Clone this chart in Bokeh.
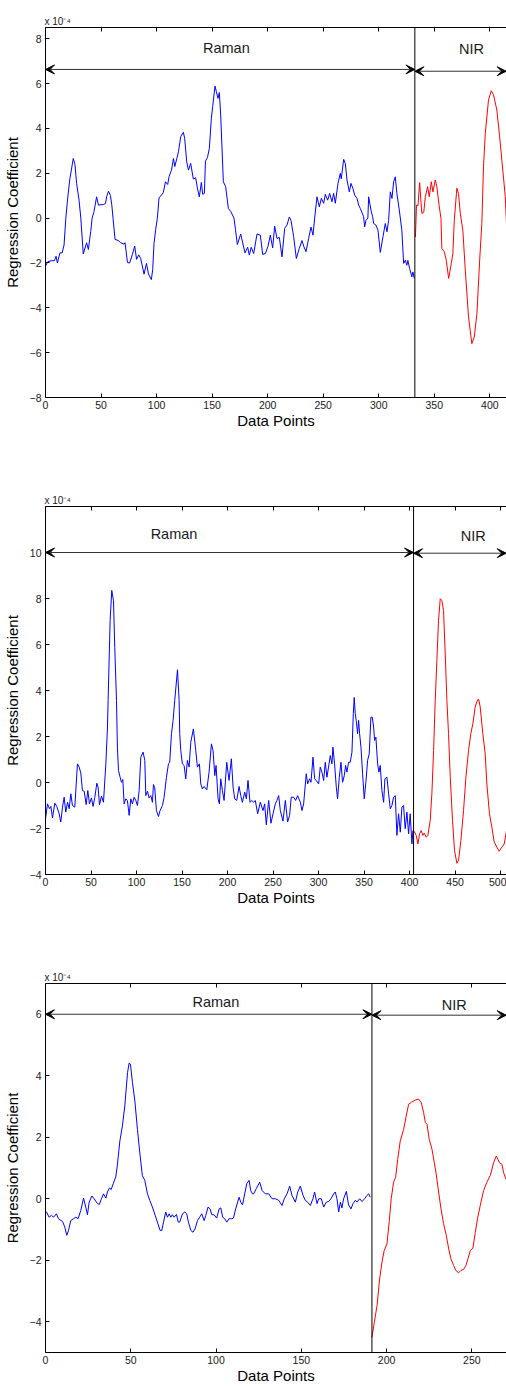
from bokeh.plotting import figure
from bokeh.models import LinearAxis, Range1d, FixedTicker, Span, Arrow, VeeHead, Label
from bokeh.layouts import column
from bokeh.embed import file_html
from bokeh.resources import INLINE

FONT = "Liberation Sans"

# ---------------- Panel 1 data (units of 1e-4) ----------------
raman1_x = [0, 2, 5, 8, 9.5, 10.7, 13, 15, 16.7, 18.3, 20, 22, 25, 26.5, 28, 30.2, 31.8, 34, 37, 38.6,
            40.7, 42, 43.7, 46, 47.7, 50, 52, 54, 55, 56.7, 58.5, 59.7, 60.8, 62.6, 65.6, 67.7, 70.7, 71.6,
            73.8, 75.8, 78.2, 80.3, 82, 83.9, 85.7, 88.7, 90.9, 92.7, 95.3, 96.5, 97.7, 99.2, 100.7, 102.2,
            106, 108, 110, 111.2, 113.4, 115.2, 116.4, 118.2, 119.7, 121.7, 124.1, 125.3, 127.1, 128.7,
            130.7, 133.1, 135.2, 136.7, 138.5, 140.3, 141.5, 143, 144, 145.8, 147.5, 149.3, 150.5, 152.6,
            153.8, 155.3, 156.5, 157.7, 160.1, 162.2, 164.6, 166.7, 169.7, 171, 172.7, 175.7, 179.6, 182,
            183.5, 185.2, 187.4, 190.4, 193.4, 195.5, 198, 200.3, 202.4, 204.5, 206.3, 208.4, 210.5, 212.9,
            215.3, 217.4, 219.5, 221, 223.4, 225.8, 228.5, 230.9, 232.4, 234.5, 236.9, 239, 240.8, 242.3,
            244.4, 246.5, 248.3, 250.4, 251.9, 254, 255.8, 257.9, 259.4, 260.9, 263.3, 265.4, 266.2, 266.9,
            268.4, 269.9, 271.4, 273.5, 275, 276.7, 278.3, 280.4, 281.9, 283.4, 286.4, 287.3, 288.5, 290.2,
            290.9, 293, 294.5, 295.4, 297.4, 299.3, 301.4, 303.8, 305.9, 307.4, 308.9, 310.4, 311.9, 313.4,
            314.9, 316.3, 318.5, 320.8, 322.4, 323.9, 325.3, 326.2, 327.8, 329.8, 330.7, 332]
raman1_y = [-2.14, -1.95, -1.9, -1.9, -1.7, -2.0, -1.55, -1.55, -1.2, 0, 0.9, 1.77, 2.66, 2.4, 1.55, 0.8, 0, -1.6, -1.1, -1.4,
            -0.6, 0, 0.3, 0.95, 0.58, 0.6, 0.6, 0.65, 0.95, 1.2, 1.0, 0.58, 0, -0.95, -1.0, -1.1, -1.16, -1.1,
            -1.98, -2.0, -1.62, -1.25, -1.84, -1.64, -1.8, -2.5, -2.02, -2.5, -2.74, -2.3, -1.13, -0.5, 0, 0.9,
            1.13, 1.62, 1.5, 1.84, 2.14, 2.66, 2.3, 2.65, 2.96, 3.63, 3.83, 3.55, 2.51, 2.14,
            2.44, 1.74, 1.8, 1.35, 0.95, 1.59, 1.06, 1.1, 2.54, 2.7, 3.11, 4.45, 4.97, 5.89,
            5.64, 5.34, 5.6, 4.6, 1.62, 1.4, 0.43, 0.3, 0, -0.5, -1.18, -0.71, -1.55, -1.3,
            -1.65, -1.3, -1.58, -0.71, -0.76, -1.62, -1.58, -1.25, -0.76, -1.33, -0.36, -0.91, -0.86, -1.73,
            -0.46, -0.31, 0.05, -0.1, -0.83, -1.8, -1.35, -1.0, -1.25, -1.5, -0.9, -0.4, -0.76, 0,
            0.95, 0.5, 0.88, 0.66, 1.06, 0.8, 1.1, 0.73, 1.1, 0.66, 1.55, 2.0, 1.75, 2.0,
            2.62, 2.44, 1.7, 1.17, 1.55, 1.33, 1.03, 0.88, 0.58, 0.43, 0.06, -0.39, -0.1, 0,
            0.95, 0.36, 0.06, -0.24, -0.31, -0.54, -1.53, -0.83, -0.24, -0.61, -0.1, 1.17, 0.88, 1.62,
            1.84, 1.1, 0.36, -0.54, -2.02, -1.88, -2.1, -1.88, -2.25, -2.62, -2.4, -2.69]
nir1_x = [333, 334, 335.3, 336.8, 338.8, 340.5, 341.9, 344, 345.5, 347.3, 348.8, 350.9, 352.3, 354.5, 356,
          356.8, 359, 360.8, 362.9, 365.3, 366.7, 368, 370.3, 371.8, 373.4, 375.7, 377.9, 380.8, 383.8,
          386, 388.4, 390.7, 392.8, 394.3, 395.9, 398.8, 401.3, 403.3, 406.3, 408.7, 410.8, 413.9, 415.5]
nir1_y = [-0.85, 0.58, 0.55, 1.58, 0.21, 0.25, 0.95, 1.4, 0.95, 1.62, 1.17, 1.7, 1.4, 0.5, 0,
          -1.35, -1.5, -1.88, -2.69, -2.02, -1.58, -0.1, 1.33, 1.1, 0.21, -0.54, -2.32, -4.4, -5.6,
          -5.3, -4.25, -2.0, -0.24, 2.29, 3.78, 5.27, 5.68, 5.5, 4.82, 3.7, 2.59, 0.95, -0.8]

# ---------------- Panel 2 data ----------------
raman2_x = [0, 2.2, 4.4, 5.9, 7.7, 10.2, 12.4, 15, 16.8, 18.7, 20.5, 22.3, 24.2, 26, 27.8, 29.6, 32.2, 35.1, 37, 38.8,
            40.6, 42.5, 44.7, 46.5, 48.3, 50.5, 52.3, 54.2, 56.4, 57.8, 59.3, 61.5, 63.7, 66.3, 68.1, 68.8, 71, 72.8,
            74.7, 76.1, 78, 79, 80.2, 82, 83.5, 84.9, 86.4, 88.2, 90, 91.9, 93.7, 95.5, 97.4, 99.2, 101, 102.9,
            104.7, 107.2, 109.1, 110.2, 112, 113.8, 115.7, 117.5, 118.6, 120, 121.9, 124.1, 125.9, 128.5, 130.3,
            132.9, 135.1, 136.5, 138.4, 140.2, 142, 145, 146.8, 147.5, 148.6, 150.4, 152.3, 154.1, 155.9, 157.8,
            159.6, 162.5, 165.1, 166.9, 169.1, 170.6, 172.4, 174.2, 177.2, 179.7, 182.3, 184.1, 186, 187.4, 189.6,
            191.1, 192.5, 194.4, 196.2, 199.1, 201.7, 204.2, 206.1, 207.9, 210.1, 212.7, 214.5, 216.3, 218.9,
            220.7, 222.5, 224.7, 226.6, 228.7, 230.5, 233.1, 236, 239, 240.8, 242.6, 245.2, 247.7, 250, 252.5,
            254.3, 256.2, 258, 260.9, 263.5, 266, 268.2, 270, 272.6, 274.8, 277, 280, 281.8, 283.6, 286.5, 288,
            290.2, 291.7, 293.9, 295.7, 297.5, 300.1, 301.9, 303.7, 305.6, 307.4, 309.2, 311, 312.9, 314.7, 315.8,
            317.6, 319.5, 320.9, 322.8, 324.6, 326.4, 328.3, 329.7, 331.2, 333, 334.8, 336.7, 338.2, 339.2, 340.3,
            341.4, 342.9, 344, 345.1, 346.6, 348.4, 350.2, 352, 353.9, 355.7, 357.5, 359, 360.5, 361.6, 363,
            364.9, 366.3, 367.8, 369.6, 371.5, 372.9, 375.1, 377, 378.8, 380.6, 382.4, 384.3, 386.1, 387.9,
            389.8, 391.6, 393.4, 395.2, 397.1, 398.9, 400.7, 402.6, 403.7]
raman2_y = [-1.58, -0.93, -1.14, -1.04, -1.54, -0.9, -1.04, -1.36, -1.72, -1.07, -0.64, -1.29, -0.86, -1.14, -0.49, -1.0, -1.07, 0.81, 0.67, 0.41,
            -0.35, -0.38, -0.96, -0.35, -0.93, -0.67, -1.04, -0.64, -0.03, -0.2, -0.97, -0.59, -0.86, 0.81, 2.41, 3.57, 7.04, 8.35,
            7.9, 5.88, 3.57, 1.54, 0.52, 0.23, 0.01, 0.13, -0.93, -0.71, -0.78, -1.43, -0.71, -0.93, -0.64, -0.78, -1.0, -0.35,
            1.1, 1.32, 0.96, -0.57, -0.38, -0.67, -0.57, -0.86, -0.09, -0.23, -1.22, -1.48, -1.22, -1.0, -0.64,
            0.23, 0.81, 0.88, 2.12, 2.7, 3.57, 4.9, 3.57, 2.12, 1.39, 0.81, 0.74, 0.16, 0.96, 0.67,
            1.75, 2.33, 1.39, 0.67, 0.81, -0.06, -0.28, -0.17, -0.32, 0.45, 1.68, 1.39, 0.3, 0.74, -0.71,
            -0.93, 0.16, -0.35, -0.78, 0.88, 0.09, 1.03, -0.2, -0.71, -0.78, -0.17, -0.57, -0.86, -0.42,
            -0.71, 0.09, -0.86, -0.78, -0.86, -0.78, -1.36, -0.86, -1.22, -0.93, -1.84, -0.78, -1.77, -1.36, -0.93,
            -0.78, -0.57, -1.22, -1.68, -0.78, -1.72, -1.43, -0.64, -0.64, -0.78, -0.57, -0.86, -1.22, -0.93, 0.38, -0.06,
            0.16, 0.01, 1.1, 0.16, 0.09, -0.06, 0.67, 0.45, 0.09, 0.88, 0.23, 0.67, 1.17, 0.81, 1.54,
            0.81, -0.2, -0.71, 0.23, 0.88, 0.01, 0.3, 0.74, 0.45, 0.88, 0.88, 1.32, 3.0, 3.7, 3.0,
            2.7, 2.12, 2.7, 2.12, 1.54, 0.38, -0.71, 0.01, 0.96, 1.25, 2.84, 2.84, 2.41, 1.83, 1.97,
            0.81, 0.45, 0.74, -0.35, -0.86, 0.16, 0.23, -0.49, -1.14, -1.0, -0.64, -0.57, -2.3, -1.36,
            -2.16, -1.07, -1.0, -2.01, -1.29, -2.23, -1.36, -2.67, -2.09]
nir2_x = [404.5, 407.3, 409.2, 411, 412.8, 414.6, 416.1, 418.3, 420.1, 422.7, 424.5, 426.4, 428.2, 430, 431.8,
          433.7, 435.5, 437.3, 439.2, 441, 442.8, 444.7, 447.2, 449.4, 452, 453.8, 456.4, 459.3, 461.9, 464.8,
          467.3, 469.5, 472.1, 474.7, 476, 477.6, 480.5, 483.1, 484.9, 487.8, 490.4, 493, 495.9, 498.5, 501.4,
          504, 506.5, 508]
nir2_y = [-2.09, -2.3, -2.67, -2.23, -2.09, -2.3, -2.2, -2.38, -2.3, -1.65, -0.49, 1.39, 3.57, 5.3, 7.04,
          7.99, 7.91, 7.48, 5.59, 3.57, 2.12, 0.23, -1.65, -2.96, -3.51, -3.39, -2.52, -1.22, 0.23, 1.39,
          2.12, 2.55, 3.28, 3.6, 3.61, 3.28, 2.12, 1.25, -0.06, -1.36, -1.94, -2.59, -2.81, -2.99, -2.81,
          -2.67, -2.09, -1.9]

# ---------------- Panel 3 data ----------------
raman3_x = [0, 0.6, 2.1, 3.5, 4.7, 6.4, 7.6, 10, 11.3, 12.5, 13.5, 14.8, 16.4, 17.8, 19.1, 20.7, 22.3, 23.6, 24.6,
            25.6, 27.2, 28.5, 30.5, 31.6, 32.8, 34, 35.4, 36.3, 37.5, 38.5, 39.7, 41.2, 42.2, 43.6, 45.1, 46.5,
            48.1, 49, 49.8, 51, 52.4, 53.9, 55.5, 56.8, 58.2, 59.8, 61.1, 62.7, 64.3, 65.6, 67.2, 68.2, 69.2,
            70.5, 71.5, 72.5, 73.5, 74.4, 75.4, 76.8, 77.8, 78.7, 80.3, 81.7, 82.8, 83.8, 85.2, 86.5, 87.7,
            89.1, 90.4, 91.6, 93, 94, 95.3, 96.5, 97.5, 98.8, 100.4, 101.8, 102.8, 103.9, 105.1, 106.3, 107.6,
            109, 110.2, 111.5, 113.5, 114.5, 115.5, 116.8, 118, 119.4, 120.3, 121.3, 122.1, 123.6, 125.6, 127,
            128.9, 130.9, 132.8, 134.8, 136.7, 138.7, 140, 141.6, 143.2, 144.5, 146.5, 147.9, 149.4, 151, 152.3,
            153.7, 155.3, 156.8, 157.8, 159.2, 160.2, 161.7, 163.1, 164.7, 166, 167.4, 169, 169.9, 170.9, 171.9,
            172.9, 173.8, 174.8, 176.4, 177.7, 179.1, 180.3, 181.7, 182.6, 184.2, 185.6, 187.1, 188.5, 189.5, 190.4]
raman3_y = [-0.4, -0.43, -0.6, -0.54, -0.6, -0.49, -0.65, -0.74, -0.92, -1.19, -1.03, -0.71, -0.65, -0.6, -0.65, -0.38, 0.02, -0.27, -0.52,
            -0.11, 0.09, 0, -0.16, -0.18, 0, 0.16, 0.02, 0.22, 0.35, 0.3, 0.49, 0.71, 1.13, 1.88, 2.37, 3.02,
            4.1, 4.41, 4.38, 3.78, 3.18, 2.26, 1.39, 0.75, 0.6, 0.16, -0.05, -0.27, -0.54, -0.76, -1.03, -1.03, -0.76,
            -0.43, -0.6, -0.49, -0.6, -0.52, -0.6, -0.51, -0.76, -0.76, -0.49, -0.43, -0.49, -0.76, -1.03, -1.09, -0.98,
            -0.71, -0.6, -0.49, -0.71, -0.54, -0.27, -0.33, -0.52, -0.52, -0.63, -0.33, -0.3, -0.6, -0.65, -0.76, -0.65,
            -0.65, -0.63, -0.33, 0.05, -0.11, -0.2, 0.16, 0.49, 0.6, 0.27, 0.16, 0.16, 0.33, 0.54, 0.27,
            0.16, 0.16, 0, 0, -0.05, -0.22, 0, 0.16, 0.41, 0.11, -0.11, 0.22, 0.41, 0.11, -0.05,
            -0.11, -0.22, 0, 0.22, -0.16, 0, 0, -0.27, -0.11, -0.09, 0, 0.16, 0.22, 0, -0.43,
            -0.11, -0.3, 0, 0.24, -0.2, -0.33, -0.16, -0.05, -0.11, 0, -0.09, 0, 0.11, 0.16, 0.05]
nir3_x = [191.4, 192.8, 194.4, 195.9, 197.3, 198.6, 200.2, 201.6, 202.7, 204.1, 205.3, 206.5, 208, 210, 211.5,
          212.9, 214.9, 216.8, 218.8, 220.3, 221.7, 222.7, 223.7, 225, 226.6, 228, 229.1, 230.5, 231.9, 233.4,
          235, 236.4, 237.7, 239.3, 240.6, 242.2, 243.6, 245.1, 246.5, 247.7, 249.1, 250.6, 252, 253.3, 254.9,
          256.9, 258.8, 260.8, 261.5, 262.7, 264.3, 265.3, 266.2, 267.6, 268.6, 270, 271]
nir3_y = [-4.51, -4.02, -3.47, -2.61, -2.06, -1.68, -1.47, -0.71, 0, 0.54, 0.7, 1.28, 1.88, 2.26, 2.69,
          3.07, 3.15, 3.21, 3.24, 3.13, 2.8, 2.48, 2.42, 1.93, 1.61, 1.17, 0.8, 0.22, -0.33, -0.81,
          -1.19, -1.63, -1.95, -2.17, -2.33, -2.41, -2.33, -2.3, -2.17, -1.95, -1.68, -1.61, -1.09, -0.65, -0.22,
          0.27, 0.54, 0.76, 0.9, 1.17, 1.39, 1.28, 1.17, 1.12, 0.85, 0.63, 0.6]

# ---------------- axis settings ----------------
xticks1 = [0, 50, 100, 150, 200, 250, 300, 350, 400]
yticks1 = [-8, -6, -4, -2, 0, 2, 4, 6, 8]
xticks2 = [0, 50, 100, 150, 200, 250, 300, 350, 400, 450, 500]
yticks2 = [-4, -2, 0, 2, 4, 6, 8, 10]
xticks3 = [0, 50, 100, 150, 200, 250]
yticks3 = [-4, -2, 0, 2, 4, 6]
scale_text = "x 10\u207b\u2074"


def make_panel(height, top, bottom, xr, yr, xticks, yticks, sep,
               rx, ry, nx, ny, ay_r, ay_n, raman_pos, nir_pos):
    p = figure(width=506, height=height, output_backend="svg", toolbar_location=None,
               x_range=Range1d(*xr), y_range=Range1d(*yr),
               x_axis_location=None, y_axis_location=None,
               min_border_left=45, min_border_right=0,
               min_border_top=top, min_border_bottom=bottom)
    p.outline_line_color = None
    p.background_fill_color = "white"
    p.border_fill_color = "white"
    p.grid.visible = False

    p.title.text = scale_text
    p.title.align = "left"
    p.title.text_font = FONT
    p.title.text_font_size = "10px"
    p.title.text_font_style = "normal"
    p.title.text_color = "#1a1a1a"
    p.title.standoff = 2
    p.title.offset = -1

    common = dict(major_tick_in=4, major_tick_out=0, minor_tick_line_color=None,
                  axis_line_color="black", major_tick_line_color="black",
                  major_label_text_font=FONT, major_label_text_font_size="10.5px",
                  major_label_text_color="#1a1a1a",
                  axis_label_text_font=FONT, axis_label_text_font_size="15px",
                  axis_label_text_font_style="normal", axis_label_text_color="black")

    xa = LinearAxis(ticker=FixedTicker(ticks=xticks), axis_label="Data Points",
                    major_label_standoff=3, axis_label_standoff=0, **common)
    p.add_layout(xa, "below")
    ya = LinearAxis(ticker=FixedTicker(ticks=yticks), axis_label="Regression Coefficient",
                    major_label_standoff=4, axis_label_standoff=6, **common)
    p.add_layout(ya, "left")
    ta = LinearAxis(ticker=FixedTicker(ticks=xticks), major_tick_in=4, major_tick_out=0,
                    minor_tick_line_color=None, axis_line_color="black",
                    major_label_text_color=None, major_label_text_alpha=0,
                    major_label_text_font_size="1px", major_label_standoff=0)
    p.add_layout(ta, "above")

    p.line(rx, ry, line_color="#0000ff", line_width=1)
    p.line(nx, ny, line_color="#ff0000", line_width=1)

    p.add_layout(Span(location=sep, dimension="height", line_color="black", line_width=1))

    head = dict(size=9, fill_color="black", line_color="black", line_width=1)
    p.add_layout(Arrow(x_start=xr[0], y_start=ay_r, x_end=sep, y_end=ay_r,
                       start=VeeHead(**head), end=VeeHead(**head),
                       line_color="#333333", line_width=1))
    p.add_layout(Arrow(x_start=sep, y_start=ay_n, x_end=xr[1] - 0.3 * (xr[1] - xr[0]) / 461, y_end=ay_n,
                       start=VeeHead(**head), end=VeeHead(**head),
                       line_color="#333333", line_width=1))

    p.add_layout(Label(x=raman_pos[0], y=raman_pos[1], text="Raman", text_align="center",
                       text_baseline="middle", text_font=FONT, text_font_size="14.5px",
                       text_color="#1a1a1a"))
    p.add_layout(Label(x=nir_pos[0], y=nir_pos[1], text="NIR", text_align="center",
                       text_baseline="middle", text_font=FONT, text_font_size="14.5px",
                       text_color="#1a1a1a"))
    return p


p1 = make_panel(462, 27, 65, (0, 415), (-8, 8.5), xticks1, yticks1, 332.5,
                raman1_x, raman1_y, nir1_x, nir1_y, 6.63, 6.55, (162.8, 7.58), (383.4, 7.53))
p2 = make_panel(462, 44, 50, (0, 506.5), (-4, 12), xticks2, yticks2, 404.4,
                raman2_x, raman2_y, nir2_x, nir2_y, 10.0, 9.97, (141.2, 10.81), (470.0, 10.7))
p3 = make_panel(462, 59, 33, (0, 270.3), (-5, 7), xticks3, yticks3, 191.4,
                raman3_x, raman3_y, nir3_x, nir3_y, 6.0, 5.97, (99.9, 6.4), (239.7, 6.3))

layout = column(p1, p2, p3, spacing=0)
open("out.html", "w").write(file_html(layout, INLINE))
